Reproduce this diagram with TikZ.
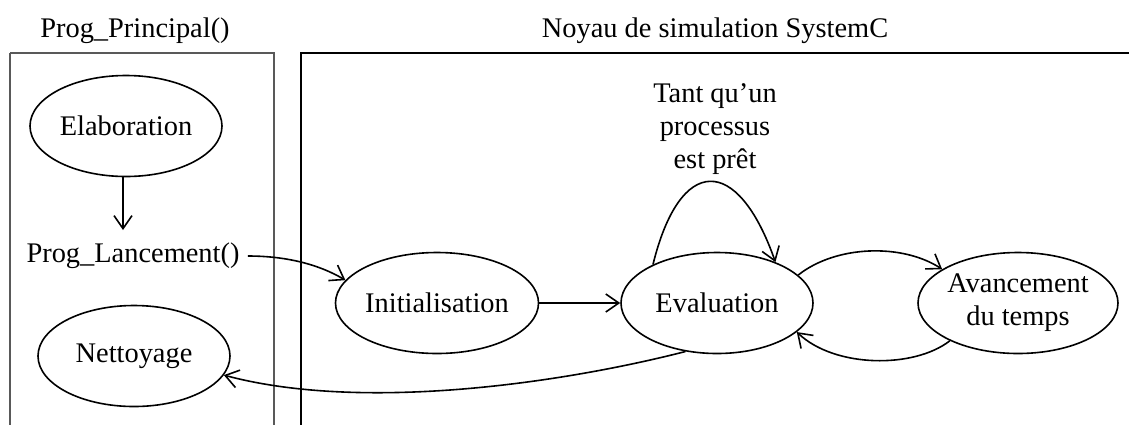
\documentclass[tikz,border=0pt]{standalone}
\usepackage{fontspec}
\setmainfont{Liberation Serif}
\usetikzlibrary{arrows.meta,shapes.geometric}
\begin{document}
\begin{tikzpicture}[x=0.5pt,y=-0.5pt,
  >={Straight Barb[length=6.5pt,width=9pt]},
  every node/.style={font=\fontsize{14.2}{16.5}\selectfont},
  state/.style={ellipse,draw,line width=0.8pt,inner sep=0pt,minimum width=96pt,minimum height=50.5pt,align=center},
  conn/.style={->,line width=0.8pt},
  plain/.style={inner sep=0pt,align=center}]
\useasboundingbox (0,0) rectangle (1129,424);
\draw[line width=0.9pt,gray!70!black] (10,53) -- (10,430) (10,53) -- (274,53) -- (274,430);
\draw[line width=0.9pt] (301,430) -- (301,53) -- (1140,53);
\node[plain] (t1) at (135,31) {Prog\_Principal()};
\node[plain] (t2) at (715,31) {Noyau de simulation SystemC};
\node[state] (elab) at (126,126) {Elaboration};
\node[plain,inner sep=4pt] (lanc) at (133,256) {Prog\_Lancement()};
\node[state] (nett) at (134,356) {Nettoyage};
\node[state] (init) at (437,303) {Initialisation};
\node[state] (eval) at (717,303) {Evaluation};
\node[state] (avan) at (1018,303) {Avancement\\du temps};
\node[plain] (lab) at (715,129) {Tant qu’un\\processus\\est prêt};
\draw[conn] (elab.south -| 123,0) -- (123,230);
\draw[conn] (lanc.east) .. controls +(38,0) and +(-27,-16) .. (init.166);
\draw[conn] (init.east) -- (eval.west);
\draw[conn] (eval.149) .. controls +(27,-110) and +(-38,-108) .. (eval.35);
\draw[conn] (eval.19) .. controls +(38,-30) and +(-40,-26) .. (avan.156);
\draw[conn] (avan.209) .. controls +(-36,28) and +(38,36) .. (eval.340);
\draw[conn] (eval.237) .. controls +(-125,32) and +(138,37) .. (nett.348);
\end{tikzpicture}
\end{document}
